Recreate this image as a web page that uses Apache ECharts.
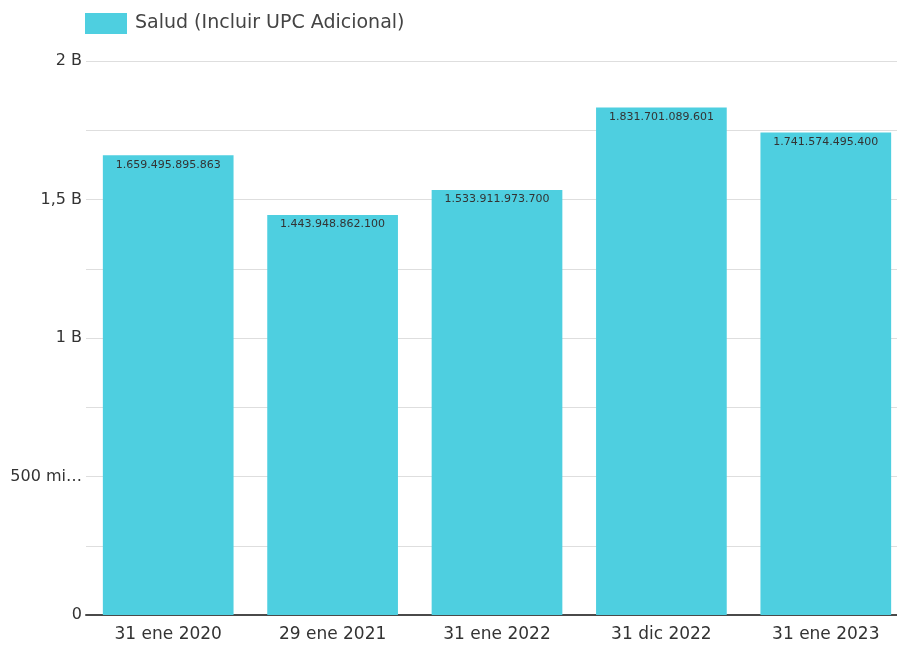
<!DOCTYPE html>
<html>
<head>
<meta charset="utf-8">
<script src="https://cdn.jsdelivr.net/npm/echarts@6/dist/echarts.min.js"></script>
<style>
html,body{margin:0;padding:0;background:#fff;overflow:hidden;width:897px;height:646px;}
#chart{width:908px;height:646px;}
</style>
</head>
<body>
<div id="chart"></div>
<script>
var categories = ['31 ene 2020', '29 ene 2021', '31 ene 2022', '31 dic 2022', '31 ene 2023'];
var seriesName = 'Salud (Incluir UPC Adicional)';
var values = [1659495895863, 1443948862100, 1533911973700, 1831701089601, 1741574495400];
var yTickLabels = {0: '0', 500000000000: '500 mi…', 1000000000000: '1 B', 1500000000000: '1,5 B', 2000000000000: '2 B'};

function fmt(v) {
  return String(v).replace(/\B(?=(\d{3})+(?!\d))/g, '.');
}

var chart = echarts.init(document.getElementById('chart'));
chart.setOption({
  animation: false,
  textStyle: {fontFamily: 'DejaVu Sans'},
  legend: {
    left: 85, top: 13, padding: 0,
    itemWidth: 42, itemHeight: 21, itemGap: 10,
    icon: 'rect',
    textStyle: {fontSize: 19, color: '#444', fontFamily: 'DejaVu Sans', padding: [0, 0, 0, 3]},
    data: [seriesName]
  },
  grid: {left: 86, right: 0, top: 61, bottom: 31, containLabel: false},
  xAxis: {
    type: 'category',
    data: categories,
    axisLine: {lineStyle: {color: '#4a4a4a', width: 2}},
    axisTick: {show: false},
    axisLabel: {fontSize: 17, color: '#333', margin: 11, fontFamily: 'DejaVu Sans'}
  },
  yAxis: {
    type: 'value',
    min: 0, max: 2000000000000, interval: 250000000000,
    axisLine: {show: false},
    axisTick: {show: false},
    splitLine: {lineStyle: {color: '#dedede', width: 1}},
    axisLabel: {
      fontSize: 16, color: '#333', margin: 4, fontFamily: 'DejaVu Sans',
      formatter: function (v) { return yTickLabels[v] !== undefined ? yTickLabels[v] : ''; }
    }
  },
  series: [{
    name: seriesName,
    type: 'bar',
    data: values,
    barCategoryGap: '20.5%',
    itemStyle: {color: '#4ecfe0'},
    label: {
      show: true,
      position: 'insideTop',
      distance: 4,
      fontSize: 11,
      color: '#333',
      fontFamily: 'DejaVu Sans',
      formatter: function (p) { return fmt(p.value); }
    }
  }]
});
</script>
</body>
</html>
